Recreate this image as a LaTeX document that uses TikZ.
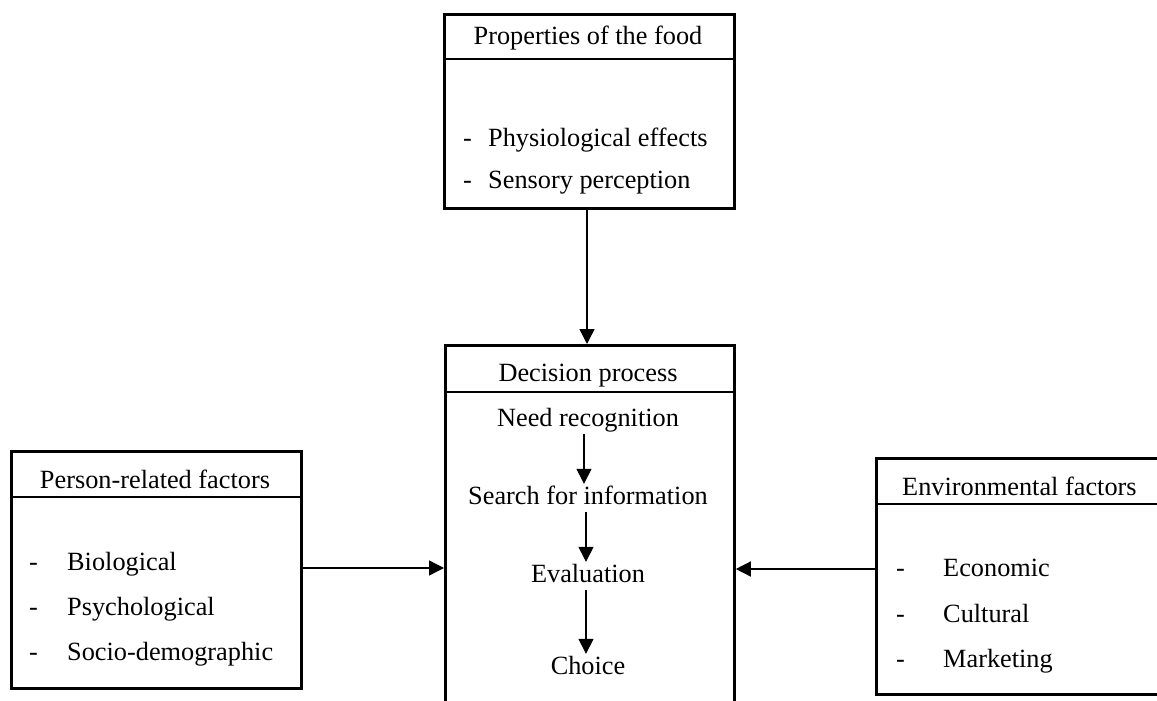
\documentclass[tikz,border=0pt]{standalone}
\usepackage{fontspec}
\setmainfont{Liberation Serif}
\usetikzlibrary{arrows.meta}
\begin{document}
\begin{tikzpicture}[x=1pt,y=-1pt,
  txt/.style={font=\fontsize{26.3}{30}\selectfont, inner sep=0pt, text height=18pt, text depth=6pt, yshift=-2pt},
  panel/.style={draw, line width=2.8pt, inner sep=0pt, anchor=north west},
  divider/.style={line width=2pt},
  arr/.style={line width=1.4pt, -{Triangle[length=15pt,width=15pt]}},
  flow/.style={line width=1.4pt, -{Triangle[length=15pt,width=15pt]}, shorten <=2pt, shorten >=2pt}]
\useasboundingbox (0,0) rectangle (1157,701);
\clip (0,0) rectangle (1157,701);

% boxes
\node[panel, minimum width=290pt, minimum height=194pt] (food) at (443,13) {};
\node[panel, minimum width=289pt, minimum height=400pt] (dec) at (444,344) {};
\node[panel, minimum width=290pt, minimum height=237pt] (person) at (10,450) {};
\node[panel, minimum width=320pt, minimum height=236pt] (env) at (875,457) {};

% header dividers
\draw[divider] ([yshift=-46pt]food.north west) -- ([yshift=-46pt]food.north east);
\draw[divider] ([yshift=-48pt]dec.north west) -- ([yshift=-48pt]dec.north east);
\draw[divider] ([yshift=-47pt]person.north west) -- ([yshift=-47pt]person.north east);
\draw[divider] ([yshift=-47pt]env.north west) -- ([yshift=-47pt]env.north east);

% headers
\node[txt] (foodh) at (588,37) {Properties of the food};
\node[txt] (dech) at (588,373) {Decision process};
\node[txt] (personh) at (155,480) {Person-related factors};
\node[txt, anchor=west] (envh) at (902,487) {Environmental factors};

% properties of the food
\node[txt, anchor=west] (fd1) at (463,138) {-};
\node[txt, anchor=west] (f1) at (488,138) {Physiological effects};
\node[txt, anchor=west] (fd2) at (463,180) {-};
\node[txt, anchor=west] (f2) at (488,180) {Sensory perception};

% person-related factors
\node[txt, anchor=west] (pd1) at (29,562) {-};
\node[txt, anchor=west] (p1) at (67,562) {Biological};
\node[txt, anchor=west] (pd2) at (29,607) {-};
\node[txt, anchor=west] (p2) at (67,607) {Psychological};
\node[txt, anchor=west] (pd3) at (29,652) {-};
\node[txt, anchor=west] (p3) at (67,652) {Socio-demographic};

% environmental factors
\node[txt, anchor=west] (ed1) at (896,568) {-};
\node[txt, anchor=west] (e1) at (943,568) {Economic};
\node[txt, anchor=west] (ed2) at (896,614) {-};
\node[txt, anchor=west] (e2) at (943,614) {Cultural};
\node[txt, anchor=west] (ed3) at (896,659) {-};
\node[txt, anchor=west] (e3) at (943,659) {Marketing};

% decision steps
\node[txt] (s1) at (588,418) {Need recognition};
\node[txt] (s2) at (588,496) {Search for information};
\node[txt] (s3) at (588,574) {Evaluation};
\node[txt] (s4) at (588,666) {Choice};

\draw[flow] (s1.south -| 584,0) -- (s2.north -| 584,0);
\draw[flow] (s2.south -| 586,0) -- (s3.north -| 586,0);
\draw[flow] (s3.south -| 586,0) -- (s4.north -| 586,0);

% connectors between boxes
\draw[arr] (food.south -| 587,0) -- (dec.north -| 587,0);
\draw[arr] (person.east |- 0,568) -- (dec.west |- 0,568);
\draw[arr] (env.west |- 0,569) -- (dec.east |- 0,569);
\end{tikzpicture}
\end{document}
